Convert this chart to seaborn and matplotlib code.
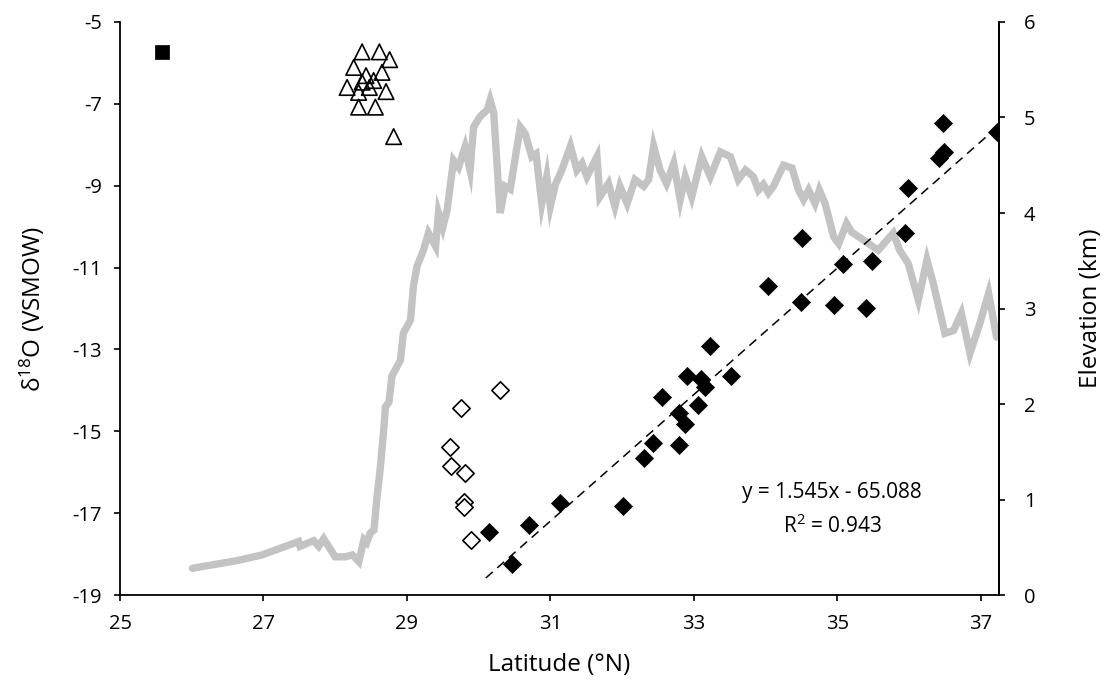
import numpy as np
import pandas as pd
import matplotlib
matplotlib.use("Agg")
import matplotlib.pyplot as plt
import seaborn as sns

# Modern precipitation / river samples (delta18O, VSMOW)
square_lat = [25.59]
square_d18o = [-5.74]

tri_lat = [28.375, 28.616, 28.759, 28.258, 28.430, 28.653, 28.375, 28.536,
           28.166, 28.327, 28.476, 28.709, 28.327, 28.560, 28.815]
tri_d18o = [-5.73, -5.73, -5.92, -6.11, -6.31, -6.23, -6.47, -6.43,
            -6.60, -6.72, -6.60, -6.70, -7.08, -7.08, -7.80]

open_lat = [30.30, 29.754, 29.605, 29.615, 29.804, 29.79, 29.79, 29.895]
open_d18o = [-13.99, -14.42, -15.39, -15.85, -16.01, -16.72, -16.84, -17.66]

filled_lat = [33.22, 32.90, 33.10, 33.52, 33.15, 32.56, 33.06, 32.79, 32.88, 32.43,
              32.80, 32.30, 31.13, 32.01, 30.70, 30.15, 30.46, 36.47, 36.49, 36.42,
              37.22, 35.98, 35.94, 34.51, 35.08, 35.49, 34.04, 34.50, 34.95, 35.40]
filled_d18o = [-12.92, -13.65, -13.73, -13.65, -13.91, -14.15, -14.36, -14.56, -14.83, -15.28,
               -15.33, -15.64, -16.74, -16.83, -17.29, -17.45, -18.23, -7.46, -8.17, -8.32,
               -7.68, -9.05, -10.15, -10.28, -10.91, -10.83, -11.45, -11.83, -11.91, -11.99]

# regression reported on the chart
slope, intercept = 1.545, -65.088
fit_lat = [30.10, 37.30]

# topographic profile (elevation, km)
prof_lat = [26.01, 26.63, 26.98, 27.49, 27.51, 27.70, 27.77, 27.84, 28.00, 28.14,
            28.24, 28.33, 28.40, 28.44, 28.49, 28.54, 28.58, 28.63, 28.68, 28.70,
            28.75, 28.79, 28.91, 28.95, 29.05, 29.09, 29.14, 29.23, 29.30, 29.40,
            29.44, 29.50, 29.56, 29.65, 29.72, 29.81, 29.88, 29.93, 30.02, 30.12,
            30.16, 30.21, 30.30, 30.37, 30.44, 30.58, 30.65, 30.74, 30.80, 30.88,
            30.95, 31.00, 31.07, 31.16, 31.28, 31.37, 31.44, 31.51, 31.65, 31.69,
            31.81, 31.90, 31.97, 32.07, 32.18, 32.30, 32.37, 32.44, 32.53, 32.62,
            32.72, 32.81, 32.88, 32.97, 33.11, 33.23, 33.37, 33.51, 33.62, 33.72,
            33.83, 33.90, 33.97, 34.04, 34.11, 34.25, 34.37, 34.46, 34.53, 34.60,
            34.69, 34.75, 34.83, 34.95, 35.02, 35.13, 35.20, 35.34, 35.57, 35.78,
            35.87, 35.99, 36.13, 36.25, 36.34, 36.50, 36.62, 36.73, 36.85, 36.99,
            37.11, 37.22]
prof_elev = [0.28, 0.36, 0.42, 0.56, 0.51, 0.57, 0.51, 0.59, 0.40, 0.40,
             0.42, 0.35, 0.58, 0.55, 0.65, 0.68, 1.00, 1.34, 1.76, 1.97,
             2.02, 2.29, 2.46, 2.74, 2.88, 3.23, 3.44, 3.61, 3.79, 3.65,
             4.00, 3.85, 4.03, 4.55, 4.48, 4.69, 4.45, 4.90, 5.01, 5.08,
             5.18, 5.05, 4.00, 4.28, 4.25, 4.90, 4.83, 4.59, 4.62, 4.10,
             4.38, 4.07, 4.30, 4.45, 4.70, 4.45, 4.52, 4.38, 4.59, 4.17,
             4.31, 4.07, 4.28, 4.10, 4.35, 4.28, 4.35, 4.70, 4.45, 4.31,
             4.52, 4.14, 4.38, 4.17, 4.59, 4.38, 4.64, 4.59, 4.35, 4.45,
             4.38, 4.24, 4.30, 4.21, 4.28, 4.50, 4.47, 4.24, 4.14, 4.24,
             4.10, 4.24, 4.10, 3.75, 3.68, 3.89, 3.80, 3.73, 3.61, 3.79,
             3.61, 3.47, 3.09, 3.51, 3.26, 2.74, 2.77, 2.95, 2.53, 2.85,
             3.16, 2.70]

sns.set_style("ticks")
plt.rcParams['font.family'] = ['Open Sans', 'DejaVu Sans']
plt.rcParams['mathtext.fontset'] = 'custom'
plt.rcParams['mathtext.rm'] = 'Open Sans'
plt.rcParams['mathtext.it'] = 'Open Sans'
plt.rcParams['axes.unicode_minus'] = False
plt.rcParams['text.color'] = 'black'
plt.rcParams['axes.labelcolor'] = 'black'

fig = plt.figure(figsize=(11.05, 6.83), dpi=100)
ax = fig.add_axes([0.1086, 0.1288, 0.7955, 0.839])
ax2 = ax.twinx()

# elevation profile behind the isotope data
prof = pd.DataFrame({'lat': prof_lat, 'elev': prof_elev})
sns.lineplot(data=prof, x='lat', y='elev', ax=ax2, color='#c3c3c3', lw=5.3,
             sort=False, estimator=None, solid_joinstyle='miter')
ax.set_zorder(ax2.get_zorder() + 1)
ax.patch.set_visible(False)

fit_y = [slope * x + intercept for x in fit_lat]
ax.plot(fit_lat, fit_y, color='black', lw=1.1, dashes=(6, 4))

sns.scatterplot(x=square_lat, y=square_d18o, ax=ax, marker='s', s=100,
                color='black', edgecolor='black', linewidth=0.5, zorder=3)
sns.scatterplot(x=tri_lat, y=tri_d18o, ax=ax, marker='^', s=125,
                facecolor='none', edgecolor='black', linewidth=1.2, zorder=3)
sns.scatterplot(x=open_lat, y=open_d18o, ax=ax, marker='D', s=78,
                facecolor='white', edgecolor='black', linewidth=1.2, zorder=3)
sns.scatterplot(x=filled_lat, y=filled_d18o, ax=ax, marker='D', s=85,
                color='black', edgecolor='black', linewidth=0.5, zorder=4)

ax.text(34.93, -16.92, 'y = 1.545x - 65.088\nR$^2$ = 0.943', ha='center', va='center',
        fontsize=15, linespacing=1.6, multialignment='center')

ax.set_xlim(25, 37.255)
ax.set_ylim(-19, -5)
ax2.set_ylim(0, 6)
ax.set_xticks(np.arange(25, 38, 2))
ax.set_yticks(np.arange(-19, -4, 2))
ax2.set_yticks(np.arange(0, 7, 1))

ax.set_xlabel('Latitude (°N)', fontsize=17.5, labelpad=13)
ax.set_ylabel('δ$^{18}$O (VSMOW)', fontsize=17.5, labelpad=18)
ax2.set_ylabel('Elevation (km)', fontsize=17.5, labelpad=31)

for a in (ax, ax2):
    a.spines['top'].set_visible(False)
    for sp in a.spines.values():
        sp.set_linewidth(1.3)
        sp.set_color('black')
    a.tick_params(direction='out', length=4, width=1.2, labelsize=14.5,
                  colors='black')
ax.tick_params(axis='y', pad=9)
ax.tick_params(axis='x', pad=10)
ax2.tick_params(axis='y', pad=14)
ax2.spines['left'].set_visible(False)
ax2.spines['bottom'].set_visible(False)

fig.savefig('out.png', dpi=100)
